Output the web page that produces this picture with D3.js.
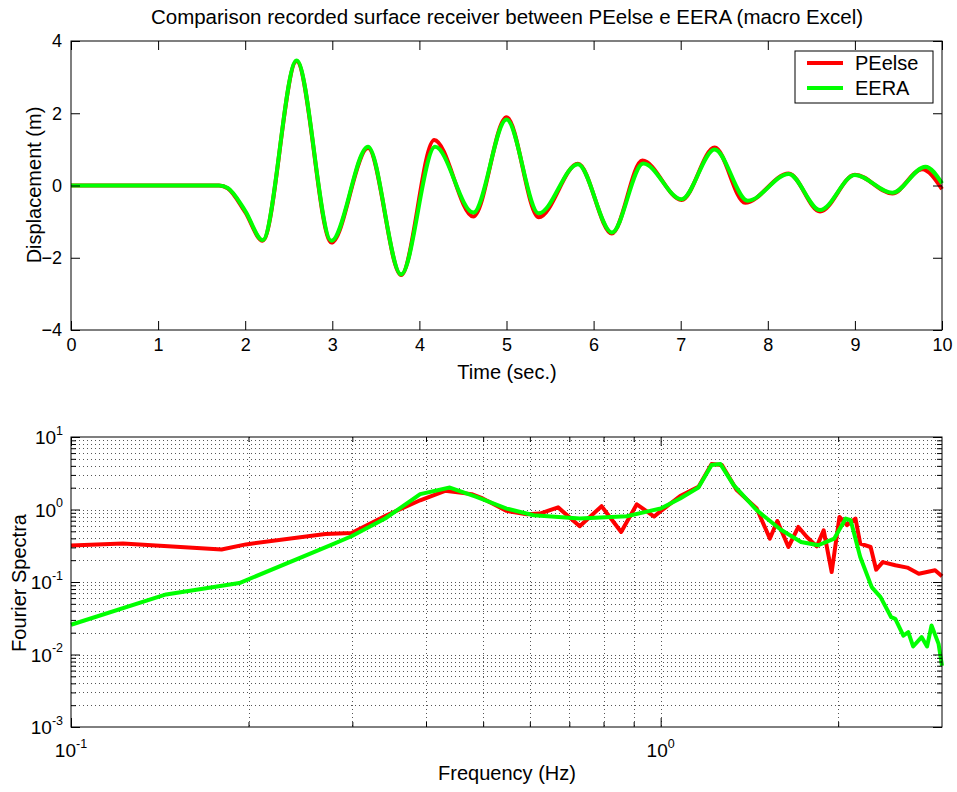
<!DOCTYPE html>
<html>
<head>
<meta charset="utf-8">
<script src="https://cdn.jsdelivr.net/npm/d3@7"></script>
<style>
  body { margin: 0; background: #fff; }
  text { font-family: Arial, "Liberation Sans", sans-serif; fill: #000; }
</style>
</head>
<body>
<script>
// ---- displacement time histories ----
var timePEelse = [0, 1.7, 1.8, 2.0, 2.2, 2.59, 2.99, 3.41, 3.79, 4.17, 4.62, 5.0, 5.37, 5.82, 6.21, 6.56, 7.01, 7.39, 7.74, 8.24, 8.60, 9.0, 9.43, 9.77, 10];
var dispPEelse = [0, 0, -0.08, -0.74, -1.53, 3.44, -1.58, 1.04, -2.48, 1.26, -0.86, 1.89, -0.88, 0.60, -1.33, 0.69, -0.40, 1.05, -0.48, 0.33, -0.72, 0.30, -0.22, 0.45, -0.10];
var timeEERA = [0, 1.7, 1.8, 2.0, 2.2, 2.59, 2.99, 3.41, 3.79, 4.18, 4.62, 5.0, 5.37, 5.82, 6.21, 6.57, 7.01, 7.39, 7.77, 8.24, 8.60, 9.0, 9.43, 9.81, 10];
var dispEERA = [0, 0, -0.07, -0.70, -1.51, 3.46, -1.53, 1.07, -2.46, 1.07, -0.75, 1.83, -0.77, 0.59, -1.30, 0.61, -0.38, 1.00, -0.42, 0.32, -0.68, 0.29, -0.20, 0.52, 0.06];

// ---- Fourier spectra ----
var freqPEelse = [0.1, 0.1225, 0.18, 0.198, 0.27, 0.299, 0.343, 0.391, 0.431, 0.478, 0.499, 0.548, 0.593, 0.624, 0.670, 0.729, 0.794, 0.857, 0.911, 0.975, 1.0, 1.079, 1.159, 1.22, 1.27, 1.346, 1.455, 1.532, 1.577, 1.647, 1.712, 1.77, 1.84, 1.89, 1.95, 2.01, 2.07, 2.14, 2.18, 2.27, 2.32, 2.38, 2.50, 2.62, 2.74, 2.92, 3.0];
var specPEelse = [0.32, 0.339, 0.28, 0.33, 0.46, 0.475, 0.834, 1.34, 1.81, 1.63, 1.42, 0.957, 0.861, 0.88, 1.07, 0.587, 1.11, 0.49, 1.18, 0.80, 0.95, 1.53, 2.05, 4.23, 4.1, 1.85, 1.03, 0.397, 0.695, 0.304, 0.575, 0.418, 0.31, 0.517, 0.137, 0.79, 0.607, 0.75, 0.339, 0.304, 0.148, 0.188, 0.17, 0.158, 0.130, 0.145, 0.12];
var freqEERA = [0.1, 0.145, 0.193, 0.275, 0.299, 0.341, 0.391, 0.439, 0.487, 0.548, 0.609, 0.729, 0.876, 0.959, 1.0, 1.079, 1.159, 1.22, 1.263, 1.33, 1.455, 1.597, 1.73, 1.85, 1.97, 2.06, 2.10, 2.18, 2.28, 2.36, 2.46, 2.50, 2.58, 2.63, 2.68, 2.77, 2.83, 2.88, 2.96, 3.0];
var specEERA = [0.0257, 0.0674, 0.0966, 0.32, 0.428, 0.751, 1.63, 2.01, 1.49, 1.03, 0.834, 0.751, 0.808, 0.957, 1.03, 1.42, 2.01, 4.1, 4.23, 2.17, 0.98, 0.529, 0.356, 0.321, 0.397, 0.75, 0.711, 0.221, 0.085, 0.0618, 0.0327, 0.031, 0.0182, 0.0203, 0.0129, 0.0174, 0.0129, 0.0251, 0.014, 0.0070];

// ---- ticks ----
var timeTicks = [0, 1, 2, 3, 4, 5, 6, 7, 8, 9, 10];
var dispTicks = [-4, -2, 0, 2, 4];
var freqLabelTicks = [0.1, 1];
var specLabelTicks = [1e-3, 1e-2, 1e-1, 1e0, 1e1];

var seriesNames = ["PEelse", "EERA"];
var seriesColors = ["#ff0000", "#00ff00"];

var svg = d3.select("body").append("svg")
  .attr("width", 957)
  .attr("height", 792);

svg.append("rect").attr("width", 957).attr("height", 792).attr("fill", "#fff");

// ================= top panel =================
var x1 = d3.scaleLinear().domain([0, 10]).range([71, 942]);
var y1 = d3.scaleLinear().domain([-4, 4]).range([330, 41]);

var zip = function(xs, ys) { return xs.map(function(v, i) { return [v, ys[i]]; }); };

var line1 = d3.line()
  .x(function(d) { return x1(d[0]); })
  .y(function(d) { return y1(d[1]); })
  .curve(d3.curveMonotoneX);

var topSeries = [zip(timePEelse, dispPEelse), zip(timeEERA, dispEERA)];
svg.append("g").selectAll("path")
  .data(topSeries)
  .enter().append("path")
  .attr("d", line1)
  .attr("fill", "none")
  .attr("stroke", function(d, i) { return seriesColors[i]; })
  .attr("stroke-width", 4)
  .attr("stroke-linejoin", "round");

function styleAxis(g, size) {
  g.select(".domain").remove();
  g.selectAll(".tick line").attr("stroke", "#000");
  g.selectAll(".tick text").style("font-size", size + "px");
}

svg.append("g").attr("transform", "translate(0,330)")
  .call(d3.axisBottom(x1).tickValues(timeTicks).tickSizeInner(-9).tickSizeOuter(0).tickPadding(8).tickFormat(d3.format("d")))
  .call(styleAxis, 18);
svg.append("g").attr("transform", "translate(0,41)")
  .call(d3.axisTop(x1).tickValues(timeTicks).tickSizeInner(-9).tickSizeOuter(0).tickFormat(""))
  .call(styleAxis, 18);
svg.append("g").attr("transform", "translate(71,0)")
  .call(d3.axisLeft(y1).tickValues(dispTicks).tickSizeInner(-9).tickSizeOuter(0).tickPadding(9).tickFormat(d3.format("d")))
  .call(styleAxis, 18);
svg.append("g").attr("transform", "translate(942,0)")
  .call(d3.axisRight(y1).tickValues(dispTicks).tickSizeInner(-9).tickSizeOuter(0).tickFormat(""))
  .call(styleAxis, 18);

svg.append("rect")
  .attr("x", 71).attr("y", 41).attr("width", 871).attr("height", 289)
  .attr("fill", "none").attr("stroke", "#000");

// legend
var legend = svg.append("g").attr("transform", "translate(795,51)");
legend.append("rect").attr("width", 138).attr("height", 52)
  .attr("fill", "#fff").attr("stroke", "#000");
seriesNames.forEach(function(name, i) {
  var yy = 12 + i * 25;
  legend.append("line").attr("x1", 12).attr("x2", 48).attr("y1", yy).attr("y2", yy)
    .attr("stroke", seriesColors[i]).attr("stroke-width", 4);
  legend.append("text").attr("x", 60).attr("y", yy + 7)
    .style("font-size", "20px").text(name);
});

svg.append("text").attr("x", 507).attr("y", 24).attr("text-anchor", "middle")
  .style("font-size", "20.5px")
  .text("Comparison recorded surface receiver between PEelse e EERA (macro Excel)");
svg.append("text").attr("x", 507).attr("y", 379).attr("text-anchor", "middle")
  .style("font-size", "20px").text("Time (sec.)");
svg.append("text").attr("transform", "translate(41,185) rotate(-90)").attr("text-anchor", "middle")
  .style("font-size", "20px").text("Displacement (m)");

// ================= bottom panel =================
var x2 = d3.scaleLog().domain([0.1, 3]).range([71, 942]);
var y2 = d3.scaleLog().domain([1e-3, 1e1]).range([727, 437]);

var freqGrid = [0.2, 0.3, 0.4, 0.5, 0.6, 0.7, 0.8, 0.9, 1, 2];
var specGrid = [];
[1e-3, 1e-2, 1e-1, 1e0].forEach(function(p) {
  for (var m = 1; m <= 9; m++) specGrid.push(m * p);
});
specGrid = specGrid.filter(function(v) { return v > 1e-3; });

var grid = svg.append("g").attr("stroke", "#555").attr("stroke-width", 1).attr("stroke-dasharray", "1,3");
grid.selectAll("line.gy").data(specGrid).enter().append("line")
  .attr("x1", 71).attr("x2", 942)
  .attr("y1", function(d) { return Math.round(y2(d)) + 0.5; })
  .attr("y2", function(d) { return Math.round(y2(d)) + 0.5; });
grid.selectAll("line.gx").data(freqGrid).enter().append("line")
  .attr("y1", 437).attr("y2", 727)
  .attr("x1", function(d) { return Math.round(x2(d)) + 0.5; })
  .attr("x2", function(d) { return Math.round(x2(d)) + 0.5; });

var line2 = d3.line()
  .x(function(d) { return x2(d[0]); })
  .y(function(d) { return y2(d[1]); });

var botSeries = [zip(freqPEelse, specPEelse), zip(freqEERA, specEERA)];
svg.append("g").selectAll("path")
  .data(botSeries)
  .enter().append("path")
  .attr("d", line2)
  .attr("fill", "none")
  .attr("stroke", function(d, i) { return seriesColors[i]; })
  .attr("stroke-width", 4)
  .attr("stroke-linejoin", "round");

// ticks: major (decades) and minor
var freqMinor = freqGrid.filter(function(d) { return d !== 1; });
var specMinor = specGrid.filter(function(d) { return specLabelTicks.indexOf(d) < 0; });

svg.append("g").attr("transform", "translate(0,727)")
  .call(d3.axisBottom(x2).tickValues(freqLabelTicks).tickSizeInner(-9).tickSizeOuter(0).tickFormat(""))
  .call(styleAxis, 18);
svg.append("g").attr("transform", "translate(0,727)")
  .call(d3.axisBottom(x2).tickValues(freqMinor).tickSizeInner(-5).tickSizeOuter(0).tickFormat(""))
  .call(styleAxis, 18);
svg.append("g").attr("transform", "translate(0,437)")
  .call(d3.axisTop(x2).tickValues(freqLabelTicks).tickSizeInner(-9).tickSizeOuter(0).tickFormat(""))
  .call(styleAxis, 18);
svg.append("g").attr("transform", "translate(0,437)")
  .call(d3.axisTop(x2).tickValues(freqMinor).tickSizeInner(-5).tickSizeOuter(0).tickFormat(""))
  .call(styleAxis, 18);
svg.append("g").attr("transform", "translate(71,0)")
  .call(d3.axisLeft(y2).tickValues(specLabelTicks).tickSizeInner(-9).tickSizeOuter(0).tickFormat(""))
  .call(styleAxis, 18);
svg.append("g").attr("transform", "translate(71,0)")
  .call(d3.axisLeft(y2).tickValues(specMinor).tickSizeInner(-5).tickSizeOuter(0).tickFormat(""))
  .call(styleAxis, 18);
svg.append("g").attr("transform", "translate(942,0)")
  .call(d3.axisRight(y2).tickValues(specLabelTicks).tickSizeInner(-9).tickSizeOuter(0).tickFormat(""))
  .call(styleAxis, 18);
svg.append("g").attr("transform", "translate(942,0)")
  .call(d3.axisRight(y2).tickValues(specMinor).tickSizeInner(-5).tickSizeOuter(0).tickFormat(""))
  .call(styleAxis, 18);

svg.append("rect")
  .attr("x", 71).attr("y", 437).attr("width", 871).attr("height", 290)
  .attr("fill", "none").attr("stroke", "#000");

// power-of-ten labels
function powLabel(sel) {
  sel.append("tspan").style("font-size", "19px").text("10");
  sel.append("tspan").style("font-size", "12.5px").attr("dy", "-0.75em")
    .text(function(d) { return Math.round(Math.log10(d)); });
}
svg.append("g").selectAll("text")
  .data(specLabelTicks).enter().append("text")
  .attr("x", 63).attr("y", function(d) { return y2(d) + 7; })
  .attr("text-anchor", "end")
  .call(powLabel);
svg.append("g").selectAll("text")
  .data(freqLabelTicks).enter().append("text")
  .attr("x", function(d) { return x2(d); }).attr("y", 757)
  .attr("text-anchor", "middle")
  .call(powLabel);

svg.append("text").attr("x", 507).attr("y", 780).attr("text-anchor", "middle")
  .style("font-size", "20px").text("Frequency (Hz)");
svg.append("text").attr("transform", "translate(26,583) rotate(-90)").attr("text-anchor", "middle")
  .style("font-size", "20px").text("Fourier Spectra");
</script>
</body>
</html>
